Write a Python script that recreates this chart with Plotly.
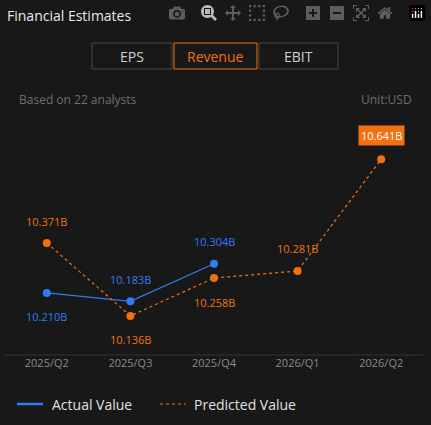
import plotly.graph_objects as go

quarters = ["2025/Q2", "2025/Q3", "2025/Q4", "2026/Q1", "2026/Q2"]
actual = [10.210, 10.183, 10.304]
predicted = [10.371, 10.136, 10.258, 10.281, 10.641]

W, H = 431, 425
L, R, T, B = 5, 8, 140, 70
BG = "#181818"
BLUE = "#2f7cf6"
ORANGE = "#f2700f"
GREY = "#8a8a8a"

def px(x): return (x - L) / (W - L - R)
def py(y): return (H - B - y) / (H - T - B)

fig = go.Figure()
fig.add_trace(go.Scatter(x=quarters[:3], y=actual, mode="lines+markers",
    line=dict(color=BLUE, width=1.2), marker=dict(size=8, color=BLUE), showlegend=False))
fig.add_trace(go.Scatter(x=quarters, y=predicted, mode="lines+markers",
    line=dict(color=ORANGE, width=1.2, dash="dot"), marker=dict(size=8, color=ORANGE), showlegend=False))

ann = []
for q, v, s in zip(quarters[:3], actual, [-24, 22, 22]):
    ann.append(dict(x=q, y=v, text=f"{v:.3f}B", showarrow=False, yshift=s, font=dict(color=BLUE, size=11)))
for i, (q, v, s) in enumerate(zip(quarters, predicted, [22, -24, -24, 22, 24])):
    if i == 4:
        ann.append(dict(x=q, y=v, text=f"{v:.3f}B", showarrow=False, yshift=s, bgcolor=ORANGE,
                        font=dict(color="white", size=11), borderpad=2))
    else:
        ann.append(dict(x=q, y=v, text=f"{v:.3f}B", showarrow=False, yshift=s, font=dict(color=ORANGE, size=11)))

def pa(x, y, text, color, size, anchor="center"):
    return dict(xref="paper", yref="paper", x=px(x), y=py(y), text=text, showarrow=False,
                xanchor=anchor, yanchor="middle", font=dict(color=color, size=size))

ann += [
    pa(5, 16, "Financial Estimates", "#e8e8e8", 14, "left"),
    pa(132, 56, "EPS", "#cfcfcf", 14),
    pa(215.5, 56, "Revenue", ORANGE, 14),
    pa(298, 56, "EBIT", "#cfcfcf", 14),
    pa(17, 100, "Based on 22 analysts", "#6f6f6f", 12, "left"),
    pa(414, 100, "Unit:USD", "#6f6f6f", 12, "right"),
    pa(50, 404, "Actual Value", "#e0e0e0", 14, "left"),
    pa(192, 404, "Predicted Value", "#e0e0e0", 14, "left"),
]

shapes = [
    dict(type="rect", xref="paper", yref="paper", x0=px(92), x1=px(172), y0=py(43), y1=py(69),
         line=dict(color="#444", width=1)),
    dict(type="rect", xref="paper", yref="paper", x0=px(259), x1=px(338), y0=py(43), y1=py(69),
         line=dict(color="#444", width=1)),
    dict(type="rect", xref="paper", yref="paper", x0=px(174), x1=px(257), y0=py(43), y1=py(69),
         line=dict(color=ORANGE, width=1)),
    dict(type="line", xref="paper", yref="paper", x0=px(17), x1=px(43), y0=py(404), y1=py(404),
         line=dict(color=BLUE, width=2.5)),
    dict(type="line", xref="paper", yref="paper", x0=px(160), x1=px(186), y0=py(404), y1=py(404),
         line=dict(color=ORANGE, width=1.2, dash="dot")),
    dict(type="line", xref="paper", yref="paper", x0=0, x1=1, y0=0, y1=0,
         line=dict(color="#333", width=1)),
]

fig.update_layout(
    width=W, height=H, margin=dict(l=L, r=R, t=T, b=B),
    paper_bgcolor=BG, plot_bgcolor=BG, annotations=ann, shapes=shapes,
    xaxis=dict(range=[-0.5, 4.5], showgrid=False, zeroline=False, showline=False,
               tickfont=dict(color=GREY, size=11), ticks="", ticklen=0),
    yaxis=dict(range=[10.010, 10.703], visible=False),
)
fig.write_html("out.html", post_script="document.body.style.margin='0';document.body.style.background='#181818';")
